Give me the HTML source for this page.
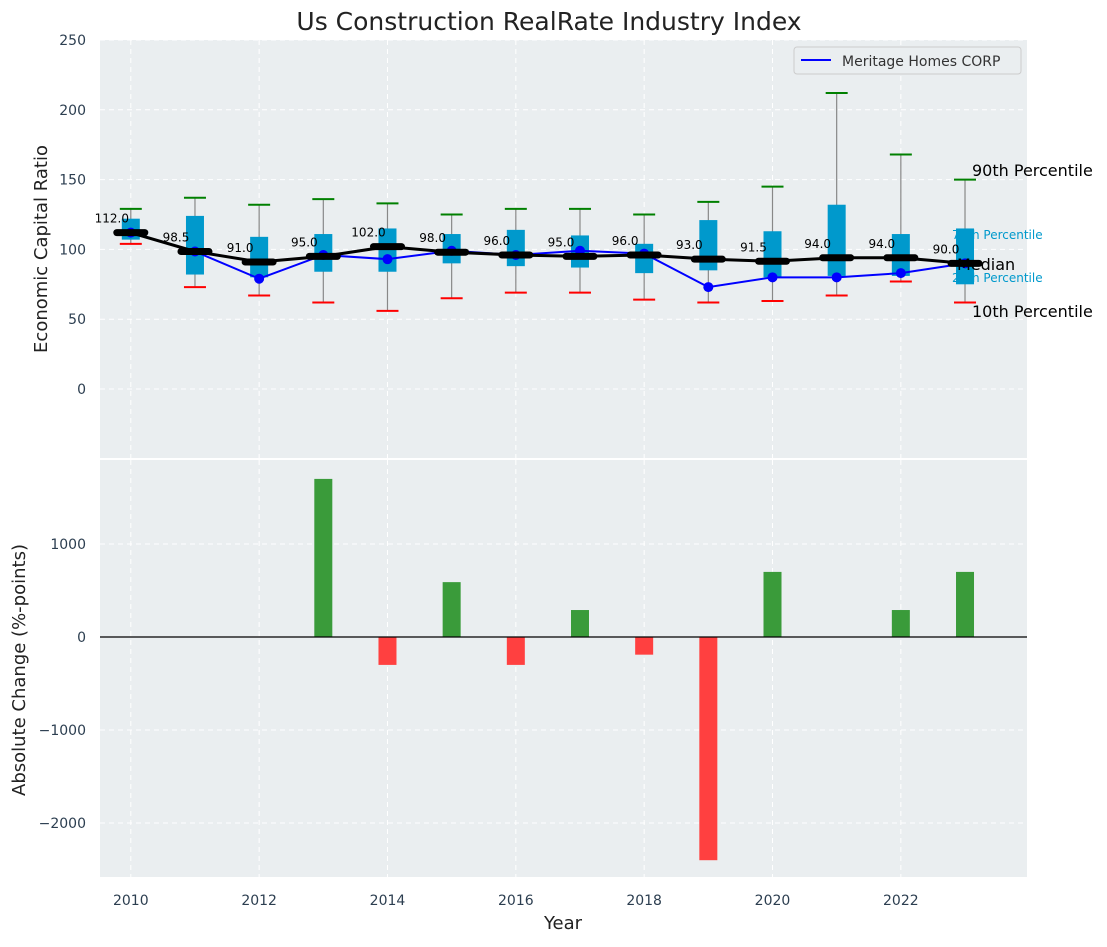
<!DOCTYPE html>
<html><head><meta charset="utf-8"><style>
body{margin:0;background:#fff;font-family:"Liberation Sans","DejaVu Sans",sans-serif}
svg text{font-family:"DejaVu Sans","Liberation Sans",sans-serif}
</style></head><body>
<svg id="c" width="1107" height="942" xmlns="http://www.w3.org/2000/svg">
<text x="549" y="30" font-size="25" text-anchor="middle" fill="#222">Us Construction RealRate Industry Index</text>
<rect x="100" y="40" width="927" height="418" fill="#eaeef0"/>
<rect x="100" y="460" width="927" height="417" fill="#eaeef0"/>
<g id="grid"></g>
<text x="952" y="239" font-size="12" fill="#0099cc">75th Percentile</text>
<text x="952" y="282" font-size="12" fill="#0099cc">25th Percentile</text>
<g id="marks"></g><g id="axes"></g>
<text transform="translate(47,249) rotate(-90)" font-size="18" text-anchor="middle" fill="#222">Economic Capital Ratio</text>
<text transform="translate(25,670) rotate(-90)" font-size="18" text-anchor="middle" fill="#222">Absolute Change (%-points)</text>
<text x="563" y="929" font-size="18" text-anchor="middle" fill="#222">Year</text>
<g>
<rect x="794" y="47" width="227" height="27" rx="3" fill="#eaeef0" stroke="#ccc"/>
<line x1="801" y1="60" x2="831" y2="60" stroke="#0000ff" stroke-width="2"/>
<text x="842" y="66" font-size="14" fill="#333">Meritage Homes CORP</text>
</g>
<text x="972" y="176" font-size="16" fill="#000">90th Percentile</text>
<text x="957" y="270" font-size="16" fill="#000">Median</text>
<text x="972" y="317" font-size="16" fill="#000">10th Percentile</text>
</svg>
<script>
const years=[2010,2011,2012,2013,2014,2015,2016,2017,2018,2019,2020,2021,2022,2023];
const medians=[112,98.5,91,95,102,98,96,95,96,93,91.5,94,94,90];
const q1=[107,82,80,84,84,90,88,87,83,85,80,81,81,75];
const q3=[122,124,109,111,115,111,114,110,104,121,113,132,111,115];
const whiskHi=[129,137,132,136,133,125,129,129,125,134,145,212,168,150];
const whiskLo=[104,73,67,62,56,65,69,69,64,62,63,67,77,62];
const company=[112,98.5,79,96,93,99,96,99,97,73,80,80,83,90];
const changes=[0,0,0,1700,-300,590,-300,290,-190,-2400,700,0,290,700];
const topTicks=[0,50,100,150,200,250];
const botTicks=[-2000,-1000,0,1000];
const xTicks=[2010,2012,2014,2016,2018,2020,2022];

const X=v=>100+(v-2009.52)*64.17;
const Y=v=>389-v*1.396;
const Yb=v=>637-v*0.093;
const NS="http://www.w3.org/2000/svg";
function mk(p,t,a){const e=document.createElementNS(NS,t);for(const k in a)e.setAttribute(k,a[k]);document.getElementById(p).appendChild(e);return e;}
for(const t of topTicks){
 const g=mk('grid','line',{x1:100,x2:1027,y1:Y(t),y2:Y(t),stroke:'#fff','stroke-dasharray':'5,4'});
 
 
 const l=mk('axes','text',{x:86,y:Y(t)+5,'font-size':14,'text-anchor':'end',fill:'#2c3e50'});l.textContent=t;
 
 
}
for(const t of botTicks){
 const g=mk('grid','line',{x1:100,x2:1027,y1:Yb(t),y2:Yb(t),stroke:'#fff','stroke-dasharray':'5,4'});
 
 
 const l=mk('axes','text',{x:86,y:Yb(t)+5,'font-size':14,'text-anchor':'end',fill:'#2c3e50'});l.textContent=(t<0?'\u2212'+(-t):t);
 
 
}
for(const t of xTicks){
 for(const [a,b] of [[40,458],[460,877]]){
  const g=mk('grid','line',{x1:X(t),x2:X(t),y1:a,y2:b,stroke:'#fff','stroke-dasharray':'5,4'});
  
  
 }
 const l=mk('axes','text',{x:X(t),y:905,'font-size':14,'text-anchor':'middle',fill:'#2c3e50'});l.textContent=t;
 
 
}
years.forEach((yr,i)=>{
 const x=X(yr);
 const w=mk('marks','line',{x1:x,x2:x,y1:Y(whiskHi[i]),y2:Y(whiskLo[i]),stroke:'#888','stroke-width':1.2});
 
 
 const b=mk('marks','rect',{x:x-9,y:Y(q3[i]),width:18,height:Y(q1[i])-Y(q3[i]),fill:'#0099cc'});
 
 
 const ch=mk('marks','line',{x1:x-11,x2:x+11,y1:Y(whiskHi[i]),y2:Y(whiskHi[i]),stroke:'#008000','stroke-width':2});
 
 
 const cl=mk('marks','line',{x1:x-11,x2:x+11,y1:Y(whiskLo[i]),y2:Y(whiskLo[i]),stroke:'#ff0000','stroke-width':2});
 
 
});
const cp=mk('marks','polyline',{points:years.map((y,i)=>X(y)+','+Y(company[i])).join(' '),fill:'none',stroke:'#0000ff','stroke-width':2});


years.forEach((y,i)=>{const c=mk('marks','circle',{cx:X(y),cy:Y(company[i]),r:5,fill:'#0000ff'});
 
 });
const ml=mk('marks','polyline',{points:years.map((y,i)=>X(y)+','+Y(medians[i])).join(' '),fill:'none',stroke:'#000','stroke-width':3});


years.forEach((y,i)=>{
 const s=mk('marks','line',{x1:X(y)-14,x2:X(y)+14,y1:Y(medians[i]),y2:Y(medians[i]),stroke:'#000','stroke-width':7,'stroke-linecap':'round'});
 
 
 const t=mk('marks','text',{x:X(y)-19,y:Y(medians[i])-10,'font-size':12,'text-anchor':'middle',fill:'#000'});
 t.textContent=medians[i].toFixed(1);
 
 
});
years.forEach((y,i)=>{
 const v=changes[i]; if(v===0)return;
 const r=mk('marks','rect',{x:X(y)-9,y:Math.min(Yb(v),Yb(0)),width:18,height:Math.abs(Yb(v)-Yb(0)),fill:v>0?'#3a9b3a':'#ff4040'});
 
 
});
const z=mk('marks','line',{x1:100,x2:1027,y1:Yb(0),y2:Yb(0),stroke:'#000','stroke-width':1.2});


</script>
</body></html>
